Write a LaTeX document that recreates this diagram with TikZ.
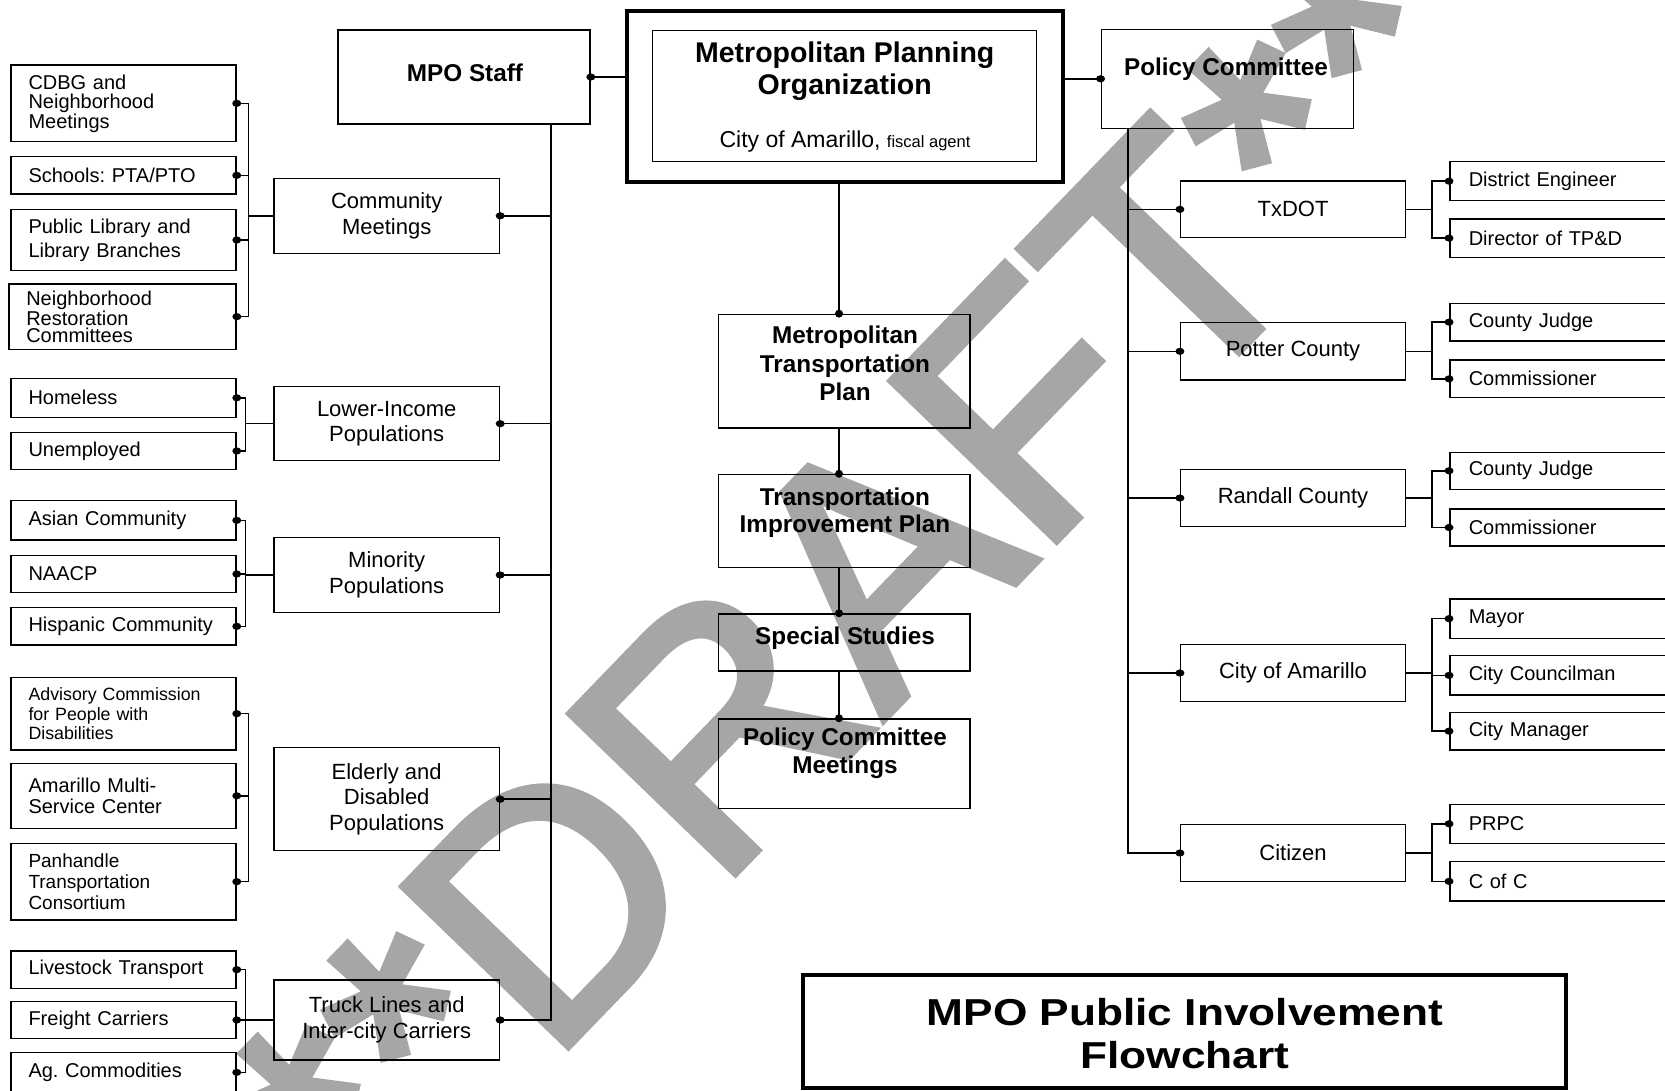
\documentclass[tikz,border=0pt]{standalone}
\usepackage{fontspec}
\setmainfont{Liberation Sans}
\newfontfamily\titlefont{Liberation Sans}[FakeStretch=1.18]
\newfontfamily\wmfont{Liberation Sans}[FakeBold=2.5]
\definecolor{wmgray}{RGB}{166,166,166}
\lineskiplimit=-50pt
\frenchspacing
\newcommand\leaffont[2]{\fontsize{#1}{#2}\selectfont}
\tikzset{
  box/.style={draw, line width=1.5pt, inner sep=0pt, align=center},
  lbox/.style={box, align=left, inner xsep=17.5pt, text width=190pt, font=\leaffont{20}{24}},
  mbox/.style={box, minimum width=225.5pt, font=\leaffont{22}{25.5}},
  rmbox/.style={box, minimum width=224.7pt, font=\leaffont{22}{25.5}},
  rbox/.style={box, anchor=west, align=left, inner xsep=19pt, text width=222pt, font=\leaffont{20}{24}},
  cbox/.style={box, minimum width=251.7pt},
  btxt/.style={inner sep=0pt, align=center, font=\bfseries\fontsize{24.3}{28.5}\selectfont},
  conn/.style={line width=1.5pt},
  wmark/.style={anchor=base, rotate=46, inner sep=0pt, text=wmgray, font=\wmfont\fontsize{333}{333}\selectfont}
}
\begin{document}
\begin{tikzpicture}[x=1pt,y=-1pt]
\useasboundingbox (0,0) rectangle (1665,1091);
\clip (0,0) rectangle (1665,1091);

% watermark
\node[wmark] (draft) at (935,666) {**DRAFT**};

% top row
\node[box, line width=4pt, minimum width=436.6pt, minimum height=170.7pt] (mpoO) at (845,96.35) {};
\node[box, minimum width=384.4pt, minimum height=131pt] (mpoI) at (844.5,96.2) {};
\node[inner sep=0pt, align=center, font=\bfseries\fontsize{28.5}{32}\selectfont] (mpoT) at (844.7,71) {Metropolitan Planning\\Organization};
\node[inner sep=0pt, font=\fontsize{23}{26}\selectfont] (mpoS) at (845,141.7) {City of Amarillo, {\fontsize{16.5}{18}\selectfont fiscal agent}};

\node[box, minimum width=252.2pt, minimum height=94pt] (staff) at (464,77) {};
\node[btxt] (staffT) at (465,72.7) {MPO Staff};
\node[box, minimum width=252.2pt, minimum height=99pt] (pc) at (1227.4,78.8) {};
\node[btxt] (pcT) at (1226,69) {Policy Committee};

% center column
\node[cbox, minimum height=113.7pt] (mtp) at (844.2,371.25) {};
\node[btxt] (mtpT) at (845,363.5) {Metropolitan\\Transportation\\Plan};
\node[cbox, minimum height=93pt] (tip) at (844.2,521) {};
\node[btxt, font=\bfseries\fontsize{24.3}{27.5}\selectfont] (tipT) at (845,512.5) {Transportation\\Improvement Plan};
\node[cbox, minimum height=56.8pt] (ss) at (844.2,642.4) {};
\node[btxt] (ssT) at (845,638) {Special Studies};
\node[cbox, minimum height=89.6pt] (pcm) at (844.2,763.8) {};
\node[btxt, font=\bfseries\fontsize{24.3}{27.6}\selectfont] (pcmT) at (845,753.5) {Policy Committee\\Meetings};

% left leaves
\node[lbox, minimum height=76.7pt, font=\leaffont{20}{19.5}] (cdbg) at (123.5,103.35) {CDBG and\\Neighborhood\\Meetings};
\node[lbox, minimum height=37.3pt] (schools) at (123.5,175.35) {Schools: PTA/PTO};
\node[lbox, minimum height=61.4pt, font=\leaffont{20}{24}] (library) at (123.5,240) {Public Library and\\Library Branches};
\node[lbox, text width=192.3pt, minimum height=65.3pt, font=\leaffont{20}{17}] (nrc) at (122.45,316.65) {Neighborhood\\Restoration\\Committees};
\node[lbox, minimum height=39pt] (homeless) at (123.5,397.8) {Homeless};
\node[lbox, minimum height=36.6pt] (unemployed) at (123.5,451) {Unemployed};
\node[lbox, minimum height=39.3pt] (asian) at (123.5,520.35) {Asian Community};
\node[lbox, minimum height=36.6pt] (naacp) at (123.5,574) {NAACP};
\node[lbox, minimum height=37.3pt] (hispanic) at (123.5,626.35) {Hispanic Community};
\node[lbox, minimum height=72.7pt, font=\leaffont{17.8}{19.5}] (advisory) at (123.5,713.65) {Advisory Commission\\for People with\\Disabilities};
\node[lbox, minimum height=65pt, font=\leaffont{20}{21.7}] (amsc) at (123.5,795.8) {Amarillo Multi-\\Service Center};
\node[lbox, minimum height=76.7pt, font=\leaffont{19}{21}] (panhandle) at (123.5,881.65) {Panhandle\\Transportation\\Consortium};
\node[lbox, minimum height=37.3pt] (livestock) at (123.5,969.65) {Livestock Transport};
\node[lbox, minimum height=36.6pt] (freight) at (123.5,1020) {Freight Carriers};
\node[lbox, minimum height=39.3pt] (ag) at (123.5,1072.35) {Ag. Commodities};

% left middle
\node[mbox, minimum height=75pt] (cm) at (386.7,215.8) {Community\\Meetings};
\node[mbox, minimum height=74pt] (li) at (386.7,423.7) {Lower-Income\\Populations};
\node[mbox, minimum height=74.6pt] (minp) at (386.7,575) {Minority\\Populations};
\node[mbox, minimum height=103pt] (eld) at (386.7,799.2) {Elderly and\\Disabled\\Populations};
\node[mbox, minimum height=80pt] (truck) at (386.7,1020) {Truck Lines and\\Inter-city Carriers};

% right middle
\node[rmbox, minimum height=56.7pt] (txdot) at (1293,209.35) {TxDOT};
\node[rmbox, minimum height=57.3pt] (potter) at (1293,351.35) {Potter County};
\node[rmbox, minimum height=57.4pt] (randall) at (1293,498) {Randall County};
\node[rmbox, minimum height=57.4pt] (city) at (1293,673) {City of Amarillo};
\node[rmbox, minimum height=57.4pt] (citizen) at (1293,853) {Citizen};

% right leaves
\node[rbox, minimum height=39pt] (de) at (1449,181.2) {District Engineer};
\node[rbox, minimum height=38.3pt] (dir) at (1449,238.15) {Director of TP\&D};
\node[rbox, minimum height=37.7pt] (pcj) at (1449,322.15) {County Judge};
\node[rbox, minimum height=37.7pt] (pcom) at (1449,378.85) {Commissioner};
\node[rbox, minimum height=37pt] (rcj) at (1449,470.8) {County Judge};
\node[rbox, minimum height=37pt] (rcom) at (1449,527.5) {Commissioner};
\node[rbox, minimum height=39.3pt] (mayor) at (1449,618.65) {Mayor};
\node[rbox, minimum height=39.3pt] (council) at (1449,675.35) {City Councilman};
\node[rbox, minimum height=37.7pt] (manager) at (1449,731.15) {City Manager};
\node[rbox, minimum height=39pt] (prpc) at (1449,823.8) {PRPC};
\node[rbox, minimum height=39.3pt] (cofc) at (1449,881.35) {C of C};

% title
\node[box, line width=4.5pt, minimum width=763pt, minimum height=113pt] (title) at (1184.5,1031.5) {};
\node[inner sep=0pt, align=center, font=\titlefont\bfseries\fontsize{37.5}{43.3}\selectfont] (titleT) at (1184.9,1033.35) {MPO Public Involvement\\Flowchart};

% coordinates
\coordinate (cX) at ([xshift=-6pt]mpoO.south);
\coordinate (tL) at ([xshift=87pt]staff.south);
\coordinate (tR) at ([xshift=-99.4pt]pc.south);
\coordinate (bR) at ([xshift=26.1pt]txdot.east);
\coordinate (bCM) at ([xshift=-24.5pt]cm.west);
\coordinate (bLI) at ([xshift=-27.5pt]li.west);
\coordinate (bMIN) at ([xshift=-27.5pt]minp.west);
\coordinate (bELD) at ([xshift=-24.6pt]eld.west);
\coordinate (bTRK) at ([xshift=-27.5pt]truck.west);

% top connectors
\draw[conn] (staff.east) -- (staff.east -| mpoO.west);
\draw[conn] (pc.west) -- (pc.west -| mpoO.east);
\draw[conn] (cX) -- (cX |- mtp.north);
\draw[conn] (cX |- mtp.south) -- (cX |- tip.north);
\draw[conn] (cX |- tip.south) -- (cX |- ss.north);
\draw[conn] (cX |- ss.south) -- (cX |- pcm.north);

% left trunk
\draw[conn] (tL) -- (tL |- truck.east) -- (truck.east);
\foreach \n in {cm,li,minp,eld} \draw[conn] (\n.east) -- (\n.east -| tL);

% left groups
\draw[conn] (cdbg.east) -- (cdbg.east -| bCM) -- (nrc.east -| bCM) -- (nrc.east);
\foreach \n in {schools,library} \draw[conn] (\n.east) -- (\n.east -| bCM);
\draw[conn] (bCM |- cm.west) -- (cm.west);

\draw[conn] (homeless.east) -- (homeless.east -| bLI) -- (unemployed.east -| bLI) -- (unemployed.east);
\draw[conn] (bLI) -- (li.west);

\draw[conn] (asian.east) -- (asian.east -| bMIN) -- (hispanic.east -| bMIN) -- (hispanic.east);
\draw[conn] (naacp.east) -- (naacp.east -| bMIN);
\draw[conn] (bMIN) -- (minp.west);

\draw[conn] (advisory.east) -- (advisory.east -| bELD) -- (panhandle.east -| bELD) -- (panhandle.east);
\draw[conn] (amsc.east) -- (amsc.east -| bELD);

\draw[conn] (livestock.east) -- (livestock.east -| bTRK) -- (ag.east -| bTRK) -- (ag.east);
\draw[conn] (freight.east) -- (freight.east -| bTRK);
\draw[conn] (bTRK) -- (truck.west);

% right trunk
\draw[conn] (tR) -- (tR |- citizen.west) -- (citizen.west);
\foreach \n in {txdot,potter,randall,city} \draw[conn] (\n.west) -- (\n.west -| tR);

% right groups
\foreach \m/\a/\b in {txdot/de/dir, potter/pcj/pcom, randall/rcj/rcom, city/mayor/manager, citizen/prpc/cofc} {
  \draw[conn] (\m.east) -- (\m.east -| bR);
  \draw[conn] (\a.west) -- (\a.west -| bR) -- (\b.west -| bR) -- (\b.west);
}
\draw[conn] (council.west) -- (council.west -| bR);

% dots
\foreach \n in {cdbg,schools,library,nrc,homeless,unemployed,asian,naacp,hispanic,advisory,amsc,panhandle,livestock,freight,ag,cm,li,minp,eld,truck,staff}
  \fill (\n.east) ellipse [x radius=4.5pt, y radius=3.6pt];
\foreach \n in {pc,txdot,potter,randall,city,citizen,de,dir,pcj,pcom,rcj,rcom,mayor,council,manager,prpc,cofc}
  \fill (\n.west) ellipse [x radius=4.5pt, y radius=3.6pt];
\foreach \n in {mtp,tip,ss,pcm}
  \fill (cX |- \n.north) ellipse [x radius=4pt, y radius=4pt];
\end{tikzpicture}
\end{document}
